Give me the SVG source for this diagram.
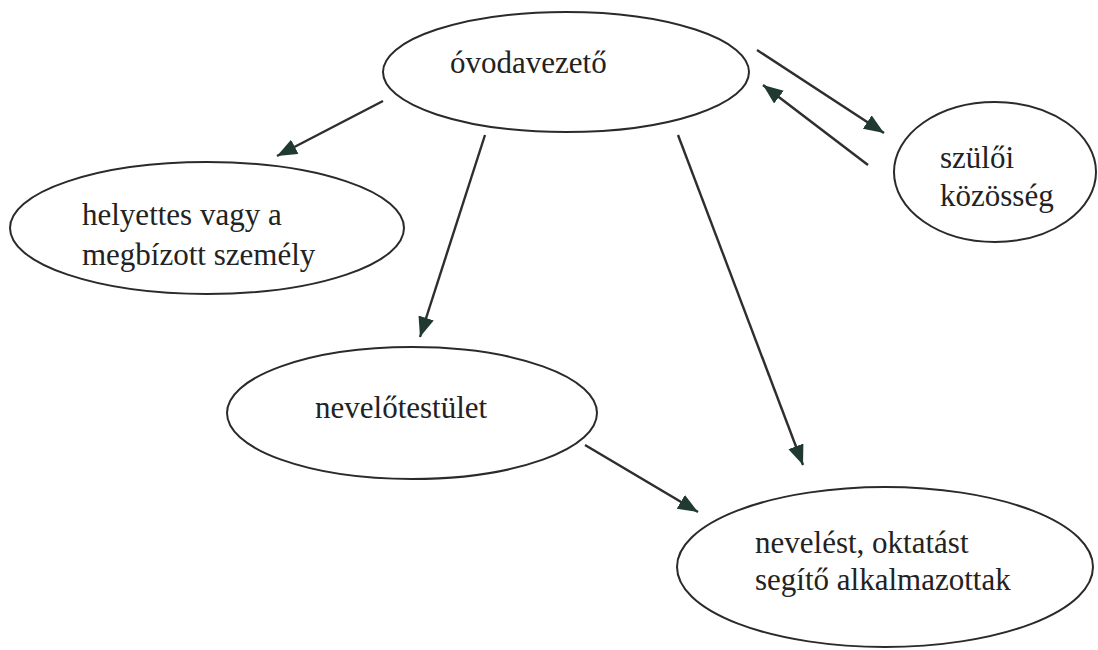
<svg xmlns="http://www.w3.org/2000/svg" width="1098" height="650" viewBox="0 0 1098 650">
<style>
.node ellipse{fill:#fff;stroke:#2a2a2a;stroke-width:2}
.node text{font-family:'Liberation Serif','Times New Roman',Times,Tinos,'Nimbus Roman','Nimbus Roman No9 L',FreeSerif,'DejaVu Serif','Noto Serif',serif;font-size:31px;fill:#222}
#connectors line{stroke:#2e2e2e;stroke-width:2.4;fill:none}
</style>
<defs>
<marker id="ah" markerUnits="userSpaceOnUse" markerWidth="24" markerHeight="18" refX="20" refY="8" orient="auto">
<path d="M0,0 L20,8 L0,16 Z" fill="#203a32"/>
</marker>
</defs>
<rect width="1098" height="650" fill="#fff"/>
<g id="n-ovodavezeto" class="node">
<ellipse cx="566" cy="72" rx="183" ry="60"/>
<text x="450" y="73">óvodavezető</text>
</g>
<g id="n-helyettes" class="node">
<ellipse cx="207" cy="228" rx="197" ry="66"/>
<text x="82" y="225">helyettes vagy a</text>
<text x="82" y="265">megbízott személy</text>
</g>
<g id="n-szuloi" class="node">
<ellipse cx="995" cy="172" rx="101" ry="70"/>
<text x="940" y="168">szülői</text>
<text x="940" y="206">közösség</text>
</g>
<g id="n-nevelotestulet" class="node">
<ellipse cx="412" cy="413" rx="185" ry="66"/>
<text x="315" y="418">nevelőtestület</text>
</g>
<g id="n-neveles" class="node">
<ellipse cx="885" cy="567" rx="208" ry="80"/>
<text x="755" y="553">nevelést, oktatást</text>
<text x="755" y="590">segítő alkalmazottak</text>
</g>
<g id="connectors">
<line x1="383" y1="101" x2="277" y2="156" marker-end="url(#ah)"/>
<line x1="485" y1="135" x2="420" y2="337" marker-end="url(#ah)"/>
<line x1="678" y1="135" x2="803" y2="465" marker-end="url(#ah)"/>
<line x1="757" y1="50" x2="884" y2="133" marker-end="url(#ah)"/>
<line x1="868" y1="165" x2="763" y2="85" marker-end="url(#ah)"/>
<line x1="585" y1="445" x2="698" y2="512" marker-end="url(#ah)"/>
</g>
</svg>
